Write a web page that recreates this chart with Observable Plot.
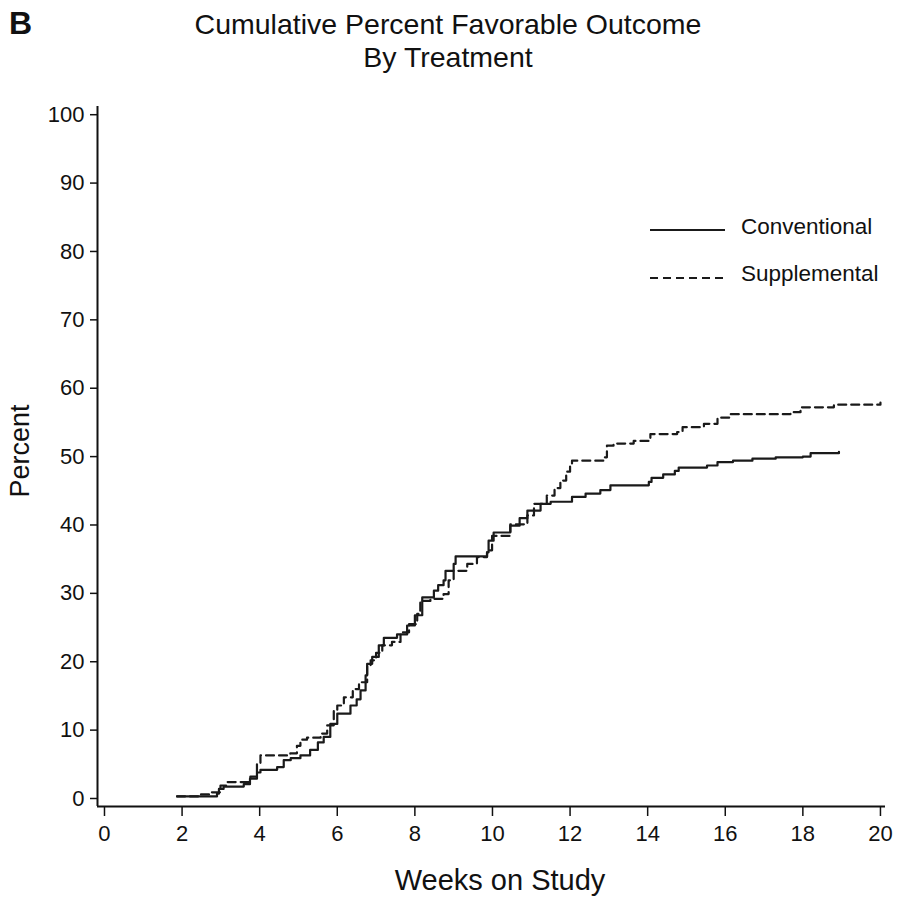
<!DOCTYPE html>
<html>
<head>
<meta charset="utf-8">
<script src="https://cdn.jsdelivr.net/npm/d3@7"></script>
<script src="https://cdn.jsdelivr.net/npm/@observablehq/plot@0.6"></script>
<style>
  body { margin: 0; background: #fff; }
  #wrap { position: relative; width: 906px; height: 903px; font-family: "Liberation Sans", Arial, sans-serif; color: #111; }
  #panel { position: absolute; left: 9px; top: 5px; font: bold 32px "Liberation Sans", Arial, sans-serif; z-index: 2; }
  .title { position: absolute; left: 0; width: 896px; text-align: center; font-size: 28.5px; line-height: 33px; height: 33px; z-index: 2; }
  #chart { position: absolute; left: 0; top: 70px; z-index: 1; }
  .legend { position: absolute; left: 650px; font-size: 22.5px; display: flex; align-items: center; z-index: 2; }
  .legend svg { margin-right: 16px; }
  .axtitle { position: absolute; z-index: 2; }
</style>
</head>
<body>
<div id="wrap">
  <div id="chart"></div>
  <div id="panel">B</div>
  <div class="title" style="top:8px;">Cumulative Percent Favorable Outcome</div>
  <div class="title" style="top:41px;">By Treatment</div>
  <div id="legend"></div>
  <div class="axtitle" style="left:0;width:1000px;top:864px;text-align:center;font-size:29px;">Weeks on Study</div>
  <div class="axtitle" style="left:-40px;top:436px;width:120px;height:30px;line-height:30px;text-align:center;font-size:27px;transform:rotate(-90deg);">Percent</div>
</div>
<script>
// Conventional treatment: weeks and cumulative percent (step points)
const convWeeks = [1.87,2.9,2.95,3.07,3.59,3.75,3.93,4.02,4.45,4.62,4.8,5.05,5.3,5.5,5.65,5.82,6.0,6.34,6.5,6.6,6.73,6.77,6.9,7.07,7.2,7.54,7.8,8.0,8.19,8.49,8.6,8.74,8.79,9.0,9.05,9.86,9.9,10.03,10.46,10.7,10.9,11.24,11.5,12.05,12.4,12.78,13.04,14.03,14.1,14.4,14.7,14.8,15.53,15.8,16.2,16.7,17.3,18.0,18.2,18.93];
const convPct   = [0.3,0.7,1.4,1.75,2.1,2.9,3.8,4.2,4.6,5.6,5.9,6.3,7.1,8.2,9.0,10.9,12.4,13.6,14.5,15.8,18.0,19.7,20.7,22.4,23.5,24.0,25.3,26.8,29.4,30.4,31.2,31.9,33.3,34.3,35.4,36.0,37.7,38.9,39.9,41.0,42.1,43.1,43.4,44.1,44.6,45.1,45.8,46.3,46.9,47.4,47.9,48.4,48.7,49.2,49.4,49.7,49.9,50.0,50.5,50.7];
// Supplemental treatment
const suppWeeks = [1.87,2.47,2.73,2.99,3.16,3.76,3.93,4.02,4.79,4.96,5.05,5.22,5.57,5.74,5.91,6.0,6.17,6.4,6.56,6.77,6.86,7.0,7.16,7.41,7.63,7.85,8.06,8.14,8.4,8.74,8.87,9.0,9.35,9.6,9.86,9.99,10.46,10.9,11.07,11.4,11.6,11.75,11.9,12.0,12.05,12.87,12.95,13.12,13.64,14.07,14.76,14.9,15.45,15.8,16.1,17.68,17.94,18.8,20.0];
const suppPct   = [0.3,0.6,0.9,1.9,2.4,3.2,5.1,6.3,6.6,7.7,8.6,8.9,9.5,10.7,12.9,13.6,14.8,16.0,17.0,19.4,20.2,21.3,22.4,22.9,24.3,25.5,27.0,28.9,29.2,29.9,31.9,33.3,34.3,35.3,36.3,38.4,40.1,41.4,43.1,44.3,45.4,46.5,47.8,48.9,49.4,49.9,51.6,51.9,52.3,53.3,53.6,54.3,54.8,55.7,56.2,56.5,57.2,57.6,57.9];

const xTicks = [0,2,4,6,8,10,12,14,16,18,20];
const yTicks = [0,10,20,30,40,50,60,70,80,90,100];
const seriesNames = ["Conventional", "Supplemental"];
const seriesDash = ["none", "8,5"];

const xDomain = [-0.18, 20.13];
const yDomain = [-1.17, 101.2];

const conv = convWeeks.map((w, i) => ({week: w, pct: convPct[i]}));
const supp = suppWeeks.map((w, i) => ({week: w, pct: suppPct[i]}));

const chart = Plot.plot({
  width: 906,
  height: 833,
  marginLeft: 97,
  marginRight: 21,
  marginTop: 36,
  marginBottom: 97,
  style: {fontFamily: "'Liberation Sans', Arial, sans-serif", fontSize: "22px", color: "#111", background: "transparent"},
  x: {domain: xDomain},
  y: {domain: yDomain},
  marks: [
    Plot.axisX({ticks: xTicks, tickSize: 10, tickPadding: 9, label: null, tickFormat: d => String(d), stroke: "#111", strokeWidth: 1.5}),
    Plot.axisY({ticks: yTicks, tickSize: 7, tickPadding: 6, label: null, tickFormat: d => String(d), stroke: "#111", strokeWidth: 1.5}),
    Plot.ruleX([xDomain[0]], {stroke: "#111", strokeWidth: 2}),
    Plot.ruleY([yDomain[0]], {stroke: "#111", strokeWidth: 2}),
    Plot.line(conv, {x: "week", y: "pct", curve: "step-after", stroke: "#1a1a1a", strokeWidth: 2.2}),
    Plot.line(supp, {x: "week", y: "pct", curve: "step-after", stroke: "#1a1a1a", strokeWidth: 2.2, strokeDasharray: seriesDash[1]})
  ]
});
document.getElementById("chart").appendChild(chart);

// legend
const legend = document.getElementById("legend");
seriesNames.forEach((name, i) => {
  const d = document.createElement("div");
  d.className = "legend";
  d.style.top = (i === 0 ? 214 : 261) + "px";
  d.innerHTML = `<svg width="75" height="14"><line x1="0" x2="75" y1="${i===0?10:11}" y2="${i===0?10:11}" stroke="#1a1a1a" stroke-width="2" ${seriesDash[i]!=="none"?`stroke-dasharray="${seriesDash[i]}"`:""}/></svg><span>${name}</span>`;
  legend.appendChild(d);
});
</script>
</body>
</html>
